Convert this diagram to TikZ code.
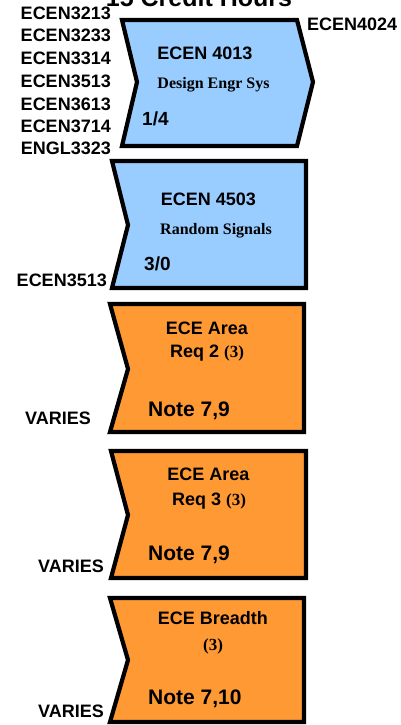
\documentclass[tikz,border=0pt]{standalone}
\usepackage{fontspec}
\setmainfont{Liberation Sans}
\newfontfamily\serifb{Liberation Serif}
\definecolor{boxblue}{HTML}{99CCFF}
\definecolor{boxorange}{HTML}{FF9933}
\tikzset{
  chev/.style={draw=black, line width=4.2pt, line join=miter},
  lbl/.style={font=\fontsize{18}{20}\selectfont\bfseries, inner sep=0pt},
  ttl/.style={font=\fontsize{18}{20}\selectfont\bfseries, inner sep=0pt, anchor=base},
  sub/.style={font=\fontsize{16}{18}\selectfont\serifb\bfseries, inner sep=0pt, anchor=base},
  note/.style={font=\fontsize{21}{23}\selectfont\bfseries, inner sep=0pt, anchor=base west},
  ratio/.style={font=\fontsize{19}{21}\selectfont\bfseries, inner sep=0pt, anchor=base west},
}
\begin{document}
\begin{tikzpicture}[x=1pt,y=-1pt]
\useasboundingbox (0,0) rectangle (401,725);
% title (cut off at top, as in the reference)
\node[font=\fontsize{25}{27}\selectfont\bfseries, inner sep=0pt, anchor=base] (title) at (199,6.5) {15 Credit Hours};
% boxes
\draw[chev, fill=boxblue] (122,20) -- (297,20) -- (313,82) -- (297,146) -- (122,146) -- (137,82) -- cycle;
\draw[chev, fill=boxblue] (112,161) -- (306,161) -- (306,288) -- (112,288) -- (128,225) -- cycle;
\draw[chev, fill=boxorange] (110,304) -- (304,304) -- (304,432) -- (110,432) -- (128,369) -- cycle;
\draw[chev, fill=boxorange] (111,451) -- (306,451) -- (306,578) -- (111,578) -- (128,515) -- cycle;
\draw[chev, fill=boxorange] (110,598) -- (304,598) -- (304,722) -- (110,722) -- (128,660) -- cycle;
% box 1
\node[ttl] (b1t) at (205,59.3) {ECEN 4013};
\node[sub] (b1s) at (213.5,88.3) {Design Engr Sys};
\node[ratio] (b1r) at (142,125.3) {1/4};
\node[lbl, anchor=base east] (p1) at (111,20) {ECEN3213};
\node[lbl, anchor=base east] (p2) at (111,41.7) {ECEN3233};
\node[lbl, anchor=base east] (p3) at (111,64.7) {ECEN3314};
\node[lbl, anchor=base east] (p4) at (111,87.3) {ECEN3513};
\node[lbl, anchor=base east] (p5) at (111,110) {ECEN3613};
\node[lbl, anchor=base east] (p6) at (111,132.3) {ECEN3714};
\node[lbl, anchor=base east] (p7) at (111,154) {ENGL3323};
\node[lbl, anchor=base west] (c1) at (307,30.7) {ECEN4024};
% box 2
\node[ttl] (b2t) at (208.5,205) {ECEN 4503};
\node[sub] (b2s) at (216,234) {Random Signals};
\node[ratio] (b2r) at (144,270.7) {3/0};
\node[lbl, anchor=base east] (p8) at (107,286.7) {ECEN3513};
% box 3
\node[ttl] (b3t) at (207,334.3) {ECE Area};
\node[ttl] (b3u) at (207,357.7) {Req 2 {\serifb\fontsize{17}{19}\selectfont(3)}};
\node[note] (b3n) at (148,416.7) {Note 7,9};
\node[lbl, anchor=base east] (v1) at (91,424.3) {VARIES};
% box 4
\node[ttl] (b4t) at (208.5,480.7) {ECE Area};
\node[ttl] (b4u) at (209,505.7) {Req 3 {\serifb\fontsize{17}{19}\selectfont(3)}};
\node[note] (b4n) at (148,560.7) {Note 7,9};
\node[lbl, anchor=base east] (v2) at (104,572.3) {VARIES};
% box 5
\node[ttl] (b5t) at (213,624.3) {ECE Breadth};
\node[ttl, font=\fontsize{17}{19}\selectfont\serifb\bfseries] (b5u) at (213,650) {(3)};
\node[note] (b5n) at (148,704) {Note 7,10};
\node[lbl, anchor=base east] (v3) at (104,717.3) {VARIES};
\end{tikzpicture}
\end{document}
